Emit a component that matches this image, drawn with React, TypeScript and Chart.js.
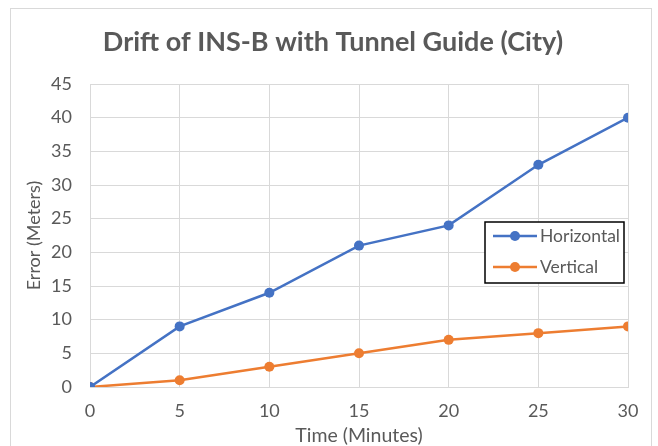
import React, { useEffect, useRef } from "react";
import { Chart, registerables } from "chart.js";

Chart.register(...registerables);

const timeMinutes = [0, 5, 10, 15, 20, 25, 30];
const horizontalError = [0, 9, 14, 21, 24, 33, 40];
const verticalError = [0, 1, 3, 5, 7, 8, 9];
const seriesNames = ["Horizontal", "Vertical"];
const seriesColors = ["#4472C4", "#ED7D31"];
const chartTitle = "Drift of INS-B with Tunnel Guide (City)";
const xTitle = "Time (Minutes)";
const yTitle = "Error (Meters)";

const FONT = "Lato";
const TEXT = "#595959";
const GRID = "#d9d9d9";

const decorPlugin = {
  id: "decor",
  beforeDraw(chart: any) {
    const ctx = chart.ctx;
    ctx.save();
    ctx.fillStyle = "#ffffff";
    ctx.fillRect(0, 0, chart.width, chart.height);
    ctx.strokeStyle = GRID;
    ctx.lineWidth = 1;
    ctx.strokeRect(10.5, 8.5, 641, 460);
    ctx.fillStyle = TEXT;
    ctx.font = `bold 27px ${FONT}`;
    ctx.textAlign = "center";
    ctx.textBaseline = "middle";
    ctx.fillText(chartTitle, 333, 42);
    ctx.restore();
  },
  afterDatasetsDraw(chart: any) {
    const ctx = chart.ctx;
    ctx.save();
    const bx = 485, by = 222, bw = 139, bh = 61;
    ctx.fillStyle = "#ffffff";
    ctx.fillRect(bx, by, bw, bh);
    ctx.strokeStyle = "#000000";
    ctx.lineWidth = 1.5;
    ctx.strokeRect(bx, by, bw, bh);
    const rows = [236, 267];
    seriesNames.forEach((name, i) => {
      const y = rows[i];
      ctx.strokeStyle = seriesColors[i];
      ctx.lineWidth = 2.5;
      ctx.beginPath();
      ctx.moveTo(493, y);
      ctx.lineTo(537, y);
      ctx.stroke();
      ctx.fillStyle = seriesColors[i];
      ctx.beginPath();
      ctx.arc(515, y, 5, 0, Math.PI * 2);
      ctx.fill();
      ctx.fillStyle = TEXT;
      ctx.font = `17.5px ${FONT}`;
      ctx.textAlign = "left";
      ctx.textBaseline = "middle";
      ctx.fillText(name, 540, y);
    });
    ctx.restore();
  },
};

export default function App() {
  const ref = useRef<HTMLCanvasElement | null>(null);
  useEffect(() => {
    document.body.style.margin = "0";
    const canvas = ref.current;
    if (!canvas) return;
    const chart = new Chart(canvas, {
      type: "line",
      data: {
        datasets: [
          {
            label: seriesNames[0],
            data: timeMinutes.map((t, i) => ({ x: t, y: horizontalError[i] })),
            borderColor: seriesColors[0],
            backgroundColor: seriesColors[0],
            borderWidth: 2.5,
            pointRadius: 5,
            pointBorderWidth: 0,
            pointBackgroundColor: seriesColors[0],
            tension: 0,
          },
          {
            label: seriesNames[1],
            data: timeMinutes.map((t, i) => ({ x: t, y: verticalError[i] })),
            borderColor: seriesColors[1],
            backgroundColor: seriesColors[1],
            borderWidth: 2.5,
            pointRadius: 5,
            pointBorderWidth: 0,
            pointBackgroundColor: seriesColors[1],
            tension: 0,
          },
        ],
      },
      options: {
        responsive: false,
        animation: false,
        layout: { padding: { left: 0, right: 30, top: 84, bottom: 0 } },
        plugins: {
          legend: { display: false },
          title: { display: false },
          tooltip: { enabled: false },
        },
        scales: {
          x: {
            type: "linear",
            min: 0,
            max: 30,
            ticks: {
              stepSize: 5,
              color: TEXT,
              font: { family: FONT, size: 18 },
              padding: 13,
            },
            grid: { color: GRID, drawTicks: false, lineWidth: 1 },
            border: { color: GRID },
            title: {
              display: true,
              text: xTitle,
              color: TEXT,
              font: { family: FONT, size: 19.5 },
              padding: { top: 0, bottom: -1 },
            },
            afterFit: (s: any) => {
              s.height = 59;
            },
          },
          y: {
            type: "linear",
            min: 0,
            max: 45,
            ticks: {
              stepSize: 5,
              color: TEXT,
              font: { family: FONT, size: 18 },
              padding: 18,
            },
            grid: { color: GRID, drawTicks: false, lineWidth: 1 },
            border: { color: GRID },
            title: {
              display: true,
              text: yTitle,
              color: TEXT,
              font: { family: FONT, size: 18 },
              padding: { top: 23, bottom: 0 },
            },
            afterFit: (s: any) => {
              s.width = 90;
            },
          },
        },
      },
      plugins: [decorPlugin],
    });
    return () => chart.destroy();
  }, []);
  return (
    <div style={{ position: "absolute", left: 0, top: 0, width: 658, height: 446 }}>
      <canvas ref={ref} width={658} height={446} style={{ display: "block" }} />
    </div>
  );
}
